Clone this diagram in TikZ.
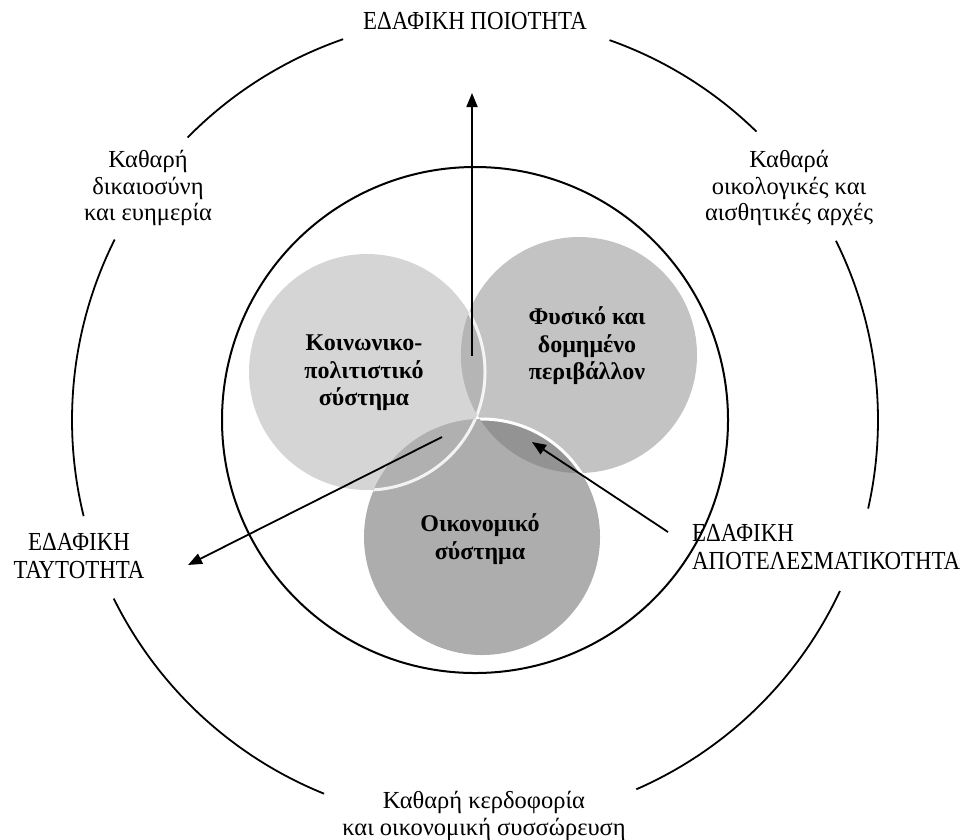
\documentclass[tikz,border=0pt]{standalone}
\usepackage{fontspec}
\setmainfont{Liberation Serif}
\newfontfamily\labfont[FakeStretch=0.88]{Liberation Serif}
\usetikzlibrary{arrows.meta}
\definecolor{colA}{HTML}{D5D5D5}
\definecolor{colB}{HTML}{C3C3C3}
\definecolor{colC}{HTML}{ADADAD}
\definecolor{colAB}{HTML}{B5B5B5}
\definecolor{colAC}{HTML}{B0B0B0}
\definecolor{colBC}{HTML}{939393}
\definecolor{colABC}{HTML}{9E9E9E}
\begin{document}
\begin{tikzpicture}[x=1pt,y=-1pt,
  ring/.style={line width=1.8pt, black},
  capslab/.style={font=\labfont\fontsize{26}{27.5}\selectfont, align=center, inner sep=0pt},
  lowlab/.style={font=\fontsize{24.5}{26.5}\selectfont, align=center, inner sep=0pt},
  boldlab/.style={font=\bfseries\fontsize{24}{27.5}\selectfont, align=center, inner sep=0pt},
  conn/.style={line width=1.8pt, -{Triangle[length=14pt,width=11pt]}},
  glow/.style={white, line width=3pt}]
\useasboundingbox (0,0) rectangle (973,839);
\coordinate (O) at (475,420);
\coordinate (cA) at (367,372);
\coordinate (cB) at (579,355);
\coordinate (cC) at (482,537);
% outer ring pieces
\draw[ring] ([shift={(O)}]109.1:403pt) arc[start angle=109.1, end angle=135.5, radius=403pt];
\draw[ring] ([shift={(O)}]70.5:403pt) arc[start angle=70.5, end angle=45.7, radius=403pt];
\draw[ring] ([shift={(O)}]26.4:403pt) arc[start angle=26.4, end angle=-12.7, radius=403pt];
\draw[ring] ([shift={(O)}]-25.1:403pt) arc[start angle=-25.1, end angle=-66.4, radius=403pt];
\draw[ring] ([shift={(O)}]-112:403pt) arc[start angle=-112, end angle=-153.7, radius=403pt];
\draw[ring] ([shift={(O)}]-166.2:403pt) arc[start angle=-166.2, end angle=-206.6, radius=403pt];
% inner ring
\draw[ring, line width=2pt] (O) circle[radius=253pt];
% three circles
\fill[colA] (cA) circle[radius=118pt];
\fill[colB] (cB) circle[radius=118pt];
\fill[colC] (cC) circle[radius=118pt];
\begin{scope}
  \clip (cA) circle[radius=118pt];
  \fill[colAB] (cB) circle[radius=118pt];
  \fill[colAC] (cC) circle[radius=118pt];
\end{scope}
\begin{scope}
  \clip (cB) circle[radius=118pt];
  \fill[colBC] (cC) circle[radius=118pt];
  \clip (cA) circle[radius=118pt];
  \fill[colABC] (cC) circle[radius=118pt];
\end{scope}
\begin{scope}
  \clip (cB) circle[radius=118pt] (cC) circle[radius=118pt];
  \draw[glow, opacity=0.85] (cA) circle[radius=118pt];
\end{scope}
\begin{scope}
  \clip (cB) circle[radius=118pt];
  \draw[glow] ([shift={(cC)}]92:118pt) arc[start angle=92, end angle=20, radius=118pt];
\end{scope}
% inner labels
\node[boldlab] (tA) at (364,373) {Κοινωνικο-\\πολιτιστικό\\σύστημα};
\node[boldlab] (tB) at (587,346) {Φυσικό και\\δομημένο\\περιβάλλον};
\node[boldlab] (tC) at (480,539) {Οικονομικό\\σύστημα};
% outer labels
\node[capslab] (q) at (475,21) {ΕΔΑΦΙΚΗ ΠΟΙΟΤΗΤΑ};
\node[lowlab] (dik) at (148,188) {Καθαρή\\δικαιοσύνη\\και ευημερία};
\node[lowlab] (oik) at (789,188) {Καθαρά\\οικολογικές και\\αισθητικές αρχές};
\node[capslab] (tay) at (79,556) {ΕΔΑΦΙΚΗ\\ΤΑΥΤΟΤΗΤΑ};
\node[capslab, align=left, anchor=west] (apo) at (692,547) {ΕΔΑΦΙΚΗ\\ΑΠΟΤΕΛΕΣΜΑΤΙΚΟΤΗΤΑ};
\node[lowlab] (ker) at (484,816) {Καθαρή κερδοφορία\\και οικονομική συσσώρευση};
% arrows
\coordinate (s1) at (472,356);
\coordinate (e1) at (472,93);
\coordinate (s2) at (442,437);
\coordinate (e2) at (188,565);
\coordinate (s3) at (668,532);
\coordinate (e3) at (532,442);
\draw[conn] (s1) -- (e1);
\draw[conn] (s2) -- (e2);
\draw[conn] (s3) -- (e3);
\end{tikzpicture}
\end{document}
